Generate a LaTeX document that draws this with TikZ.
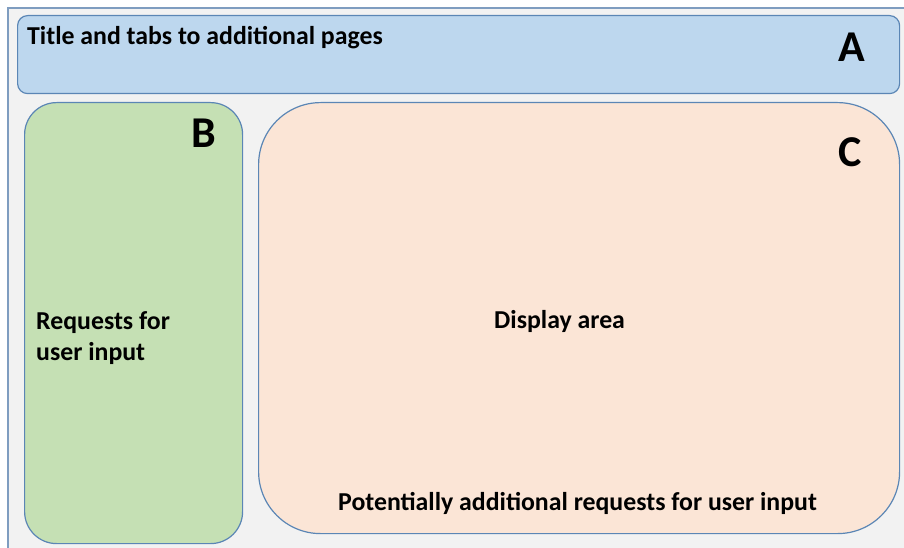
\documentclass[tikz,border=0pt]{standalone}
\usepackage{fontspec}
\setmainfont{Carlito}
\definecolor{frameblue}{HTML}{7F9DC0}
\definecolor{edgeblue}{HTML}{5B86B5}
\definecolor{bgray}{HTML}{F2F2F2}
\definecolor{fillA}{HTML}{BDD7EE}
\definecolor{fillB}{HTML}{C5E0B4}
\definecolor{fillC}{HTML}{FBE5D6}
\tikzset{
  panel/.style={draw=edgeblue, line width=1.2pt, inner sep=0pt, anchor=north west},
  lbl/.style={font=\bfseries\fontsize{25.8}{31}\selectfont, anchor=base west, inner sep=0pt, align=left},
  big/.style={font=\bfseries\fontsize{44}{44}\selectfont, anchor=base west, inner sep=0pt}
}
\begin{document}
\begin{tikzpicture}[x=1pt,y=-1pt]
\useasboundingbox (0,0) rectangle (904,548);
\fill[white] (0,0) rectangle (904,548);
\fill[bgray] (8,8) rectangle (904,548);
\draw[frameblue, line width=1.5pt] (8,548) -- (8,8) -- (904,8);
\node[panel, fill=fillA, rounded corners=10pt, minimum width=882pt, minimum height=78pt] (A) at (17,15) {};
\node[panel, fill=fillB, rounded corners=32pt, minimum width=218pt, minimum height=441pt] (B) at (24,102) {};
\node[panel, fill=fillC, rounded corners=62pt, minimum width=641pt, minimum height=431pt] (C) at (258,102) {};
\node[lbl] (tA) at (27,45) {Title and tabs to additional pages};
\node[big] (lA) at (838,62) {A};
\node[big] (lB) at (191,148) {B};
\node[big] (lC) at (838,167) {C};
\node[lbl] (tB) at (36,360) {Requests for\\user input};
\node[lbl] (tC) at (494,328) {Display area};
\node[lbl] (tC2) at (338,510) {Potentially additional requests for user input};
\end{tikzpicture}
\end{document}
